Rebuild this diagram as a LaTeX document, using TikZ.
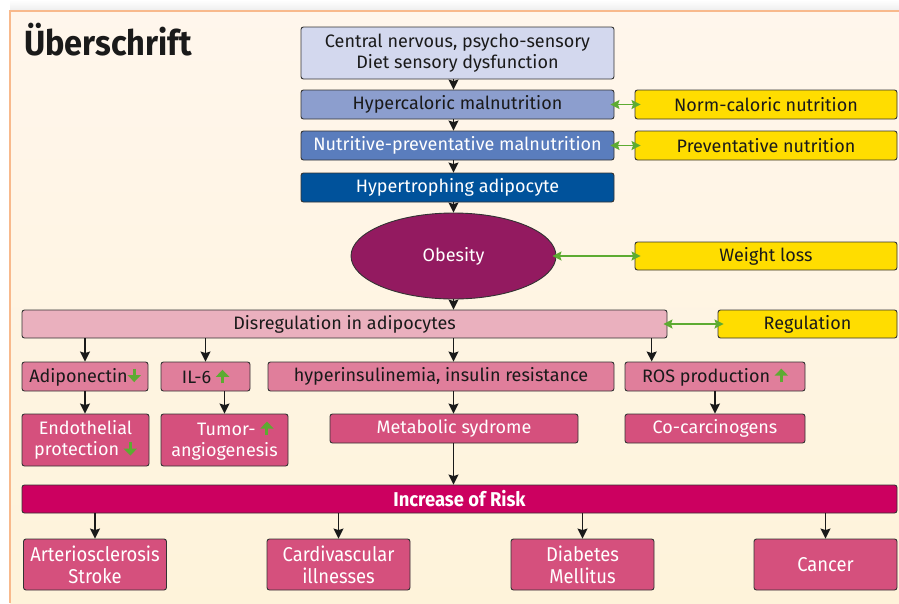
\documentclass[tikz,border=0pt]{standalone}
\usepackage{fontspec}
\setmainfont{Fira Sans}
\newfontfamily\condfont[FakeStretch=0.92]{Fira Sans}
\newfontfamily\titlefont[FakeStretch=0.93]{Fira Sans}
\usetikzlibrary{arrows.meta,shapes.geometric,calc}
\definecolor{panelTop}{HTML}{FFF6EC}
\definecolor{panelBot}{HTML}{FEF3DA}
\definecolor{panelLine}{HTML}{F8B98C}
\definecolor{boxLine}{HTML}{333333}
\definecolor{txt}{HTML}{1A1A1A}
\definecolor{cLav}{HTML}{D3D8EE}
\definecolor{cHyp}{HTML}{8C9ECE}
\definecolor{cNut}{HTML}{5A7DBD}
\definecolor{cAdi}{HTML}{00529B}
\definecolor{cOb}{HTML}{931A60}
\definecolor{cYel}{HTML}{FFDD00}
\definecolor{cDis}{HTML}{EAB0BE}
\definecolor{cRowA}{HTML}{E07E9B}
\definecolor{cRowB}{HTML}{D5507D}
\definecolor{cRisk}{HTML}{CC0060}
\definecolor{cGreen}{HTML}{5DAB32}
\newcommand\gup{\tikz[baseline=0pt,x=1pt,y=1pt]\draw[line width=3pt,color=cGreen,-{Triangle[length=7pt,width=13pt]}] (0,0) -- (0,13.5);}
\newcommand\gdn{\tikz[baseline=0pt,x=1pt,y=1pt]\draw[line width=3pt,color=cGreen,-{Triangle[length=7pt,width=13pt]}] (0,13.5) -- (0,0);}
\tikzset{
  bx/.style={rectangle,rounded corners=2.5pt,draw=boxLine,line width=0.9pt,inner sep=0pt,align=center,text=txt,font=\fontsize{18}{21}\selectfont},
  bxw/.style={bx,text=white},
  bxb/.style={bx,text=white,font=\condfont\fontsize{20}{22}\selectfont},
  arr/.style={line width=1.5pt,draw=txt,-{Stealth[length=10pt,width=10pt,inset=1.5pt]}},
  garr/.style={line width=1.8pt,draw=cGreen,{Stealth[length=9pt,width=9pt,inset=1.5pt]}-{Stealth[length=9pt,width=9pt,inset=1.5pt]},shorten <=-4pt,shorten >=-6pt},
}
\begin{document}
\begin{tikzpicture}[x=1pt,y=-1pt]
\useasboundingbox (0,0) rectangle (899,603);
\fill[white] (0,0) rectangle (899,603);
\shade[top color=white,bottom color=black!7] (10,0) rectangle (899,11);
\shade[top color=panelTop,bottom color=panelBot] (10,11) rectangle (899,603);
\draw[panelLine,line width=1.5pt] (10,603) -- (10,11) -- (899,11);
\node[anchor=base west,inner sep=0pt,text=txt,font=\titlefont\bfseries\fontsize{35}{35}\selectfont] (title) at (24,55) {Überschrift};
% top chain
\node[bx,fill=cLav,minimum width=313,minimum height=52] (c1) at (457.5,53) {Central nervous, psycho-sensory\\Diet sensory dysfunction};
\node[bx,fill=cHyp,minimum width=313,minimum height=29] (hyp) at (457.5,104.5) {Hypercaloric malnutrition};
\node[bxw,fill=cNut,minimum width=313,minimum height=29] (nut) at (457.5,145.5) {Nutritive-preventative malnutrition};
\node[bxw,fill=cAdi,minimum width=313,minimum height=29] (adi) at (457.5,187.5) {Hypertrophing adipocyte};
\node[ellipse,draw=boxLine,line width=0.9pt,fill=cOb,text=white,inner sep=0pt,minimum width=205,minimum height=86,font=\fontsize{18}{21}\selectfont] (ob) at (453.5,256) {Obesity};
% yellow
\node[bx,fill=cYel,minimum width=262,minimum height=29] (norm) at (766,104.5) {Norm-caloric nutrition};
\node[bx,fill=cYel,minimum width=262,minimum height=29] (prev) at (766,145.5) {Preventative nutrition};
\node[bx,fill=cYel,minimum width=262,minimum height=28] (wl) at (766,256) {Weight loss};
\node[bx,fill=cYel,minimum width=179,minimum height=28] (reg) at (807.5,324) {Regulation};
% disregulation
\node[bx,fill=cDis,minimum width=645,minimum height=28] (dis) at (344.5,324) {Disregulation in adipocytes};
% row 1
\node[bx,fill=cRowA,minimum width=126,minimum height=29] (adp) at (85,376.5) {Adiponectin\gdn};
\node[bx,fill=cRowA,minimum width=89,minimum height=29] (il6) at (205.5,376.5) {IL-6 \gup};
\node[bx,fill=cRowA,minimum width=346,minimum height=29] (hyi) at (441,376.5) {hyperinsulinemia, insulin resistance};
\node[bx,fill=cRowA,minimum width=180,minimum height=29] (ros) at (715,376.5) {ROS production \gup};
% row 2
\node[bxw,fill=cRowB,minimum width=127,minimum height=52] (endo) at (85.5,440) {Endothelial\\protection \gdn};
\node[bxw,fill=cRowB,minimum width=127,minimum height=52] (tum) at (224.5,440) {\hspace*{1.2em}Tumor- \gup\\angiogenesis};
\node[bxw,fill=cRowB,minimum width=248,minimum height=29] (met) at (454,428.5) {Metabolic sydrome};
\node[bxw,fill=cRowB,minimum width=180,minimum height=29] (coc) at (715,428.5) {Co-carcinogens};
% risk
\node[bx,fill=cRisk,text=white,minimum width=875,minimum height=28,font=\condfont\bfseries\fontsize{20}{22}\selectfont] (risk) at (459.5,499) {Increase of Risk};
% bottom
\node[bxb,fill=cRowB,minimum width=143,minimum height=51] (art) at (95,564.5) {Arteriosclerosis\\Stroke};
\node[bxb,fill=cRowB,minimum width=143,minimum height=51] (car) at (338.5,564.5) {Cardivascular\\illnesses};
\node[bxb,fill=cRowB,minimum width=143,minimum height=51] (dia) at (582.5,564.5) {Diabetes\\Mellitus};
\node[bxb,fill=cRowB,minimum width=143,minimum height=51] (can) at (825.5,564.5) {Cancer};
% black arrows
\draw[arr] (c1.south -| ob.center) -- (hyp.north -| ob.center);
\draw[arr] (hyp.south -| ob.center) -- (nut.north -| ob.center);
\draw[arr] (nut.south -| ob.center) -- (adi.north -| ob.center);
\draw[arr] (adi.south -| ob.center) -- (ob.north);
\draw[arr] (ob.south) -- (dis.north -| ob.center);
\draw[arr] (dis.south -| adp.center) -- (adp.north);
\draw[arr] (dis.south -| il6.center) -- (il6.north);
\draw[arr] (dis.south -| ob.center) -- (hyi.north -| ob.center);
\coordinate (rosx) at ($(ros.north west)!0.15!(ros.north east)$);
\draw[arr] (dis.south -| rosx) -- (rosx);
\draw[arr] (adp.south) -- (endo.north -| adp.center);
\draw[arr] (il6.south -| tum.center) -- (tum.north);
\draw[arr] (hyi.south -| ob.center) -- (met.north -| ob.center);
\draw[arr] (ros.south) -- (coc.north);
\draw[arr] (met.south -| ob.center) -- (risk.north -| ob.center);
\draw[arr] (risk.south -| art.center) -- (art.north);
\draw[arr] (risk.south -| car.center) -- (car.north);
\draw[arr] (risk.south -| dia.center) -- (dia.north);
\draw[arr] (risk.south -| can.center) -- (can.north);
% green arrows
\draw[garr] (hyp.east) -- (norm.west);
\draw[garr] (nut.east) -- (prev.west);
\draw[garr] (ob.east) -- (wl.west);
\draw[garr] (dis.east) -- (reg.west);
\end{tikzpicture}
\end{document}
